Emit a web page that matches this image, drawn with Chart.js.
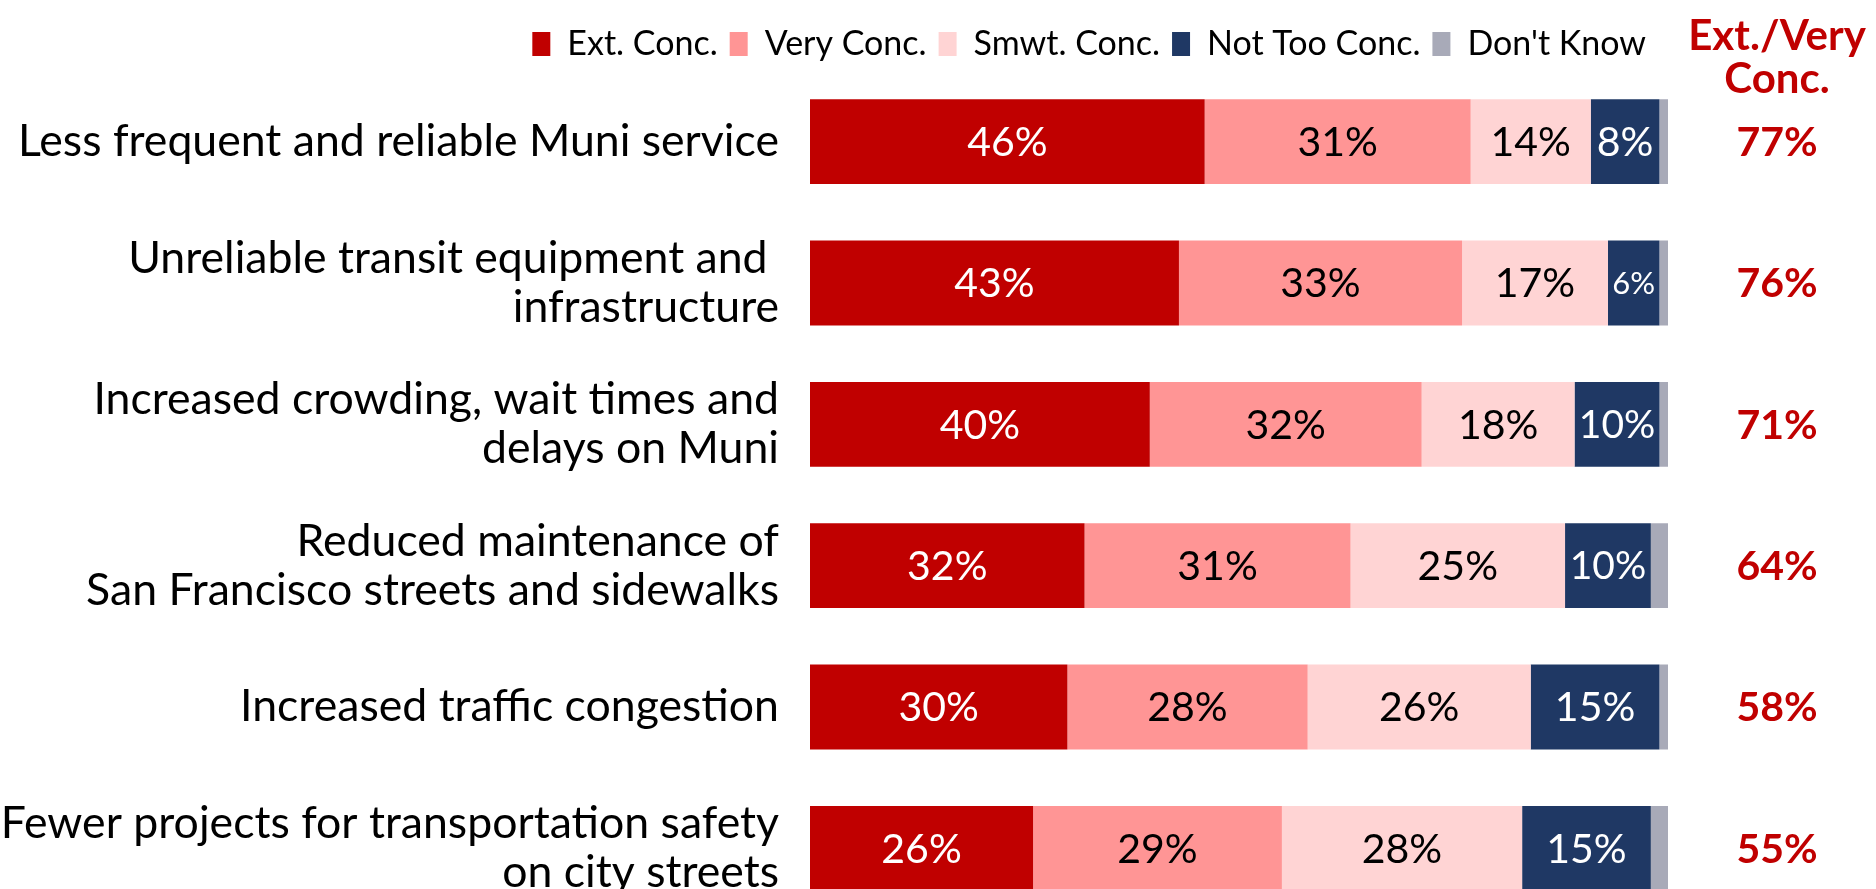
<!DOCTYPE html>
<html>
<head>
<meta charset="utf-8">
<script src="https://cdn.jsdelivr.net/npm/chart.js@4.4.0/dist/chart.umd.min.js"></script>
<style>
  html, body { margin: 0; padding: 0; background: #fff; overflow: hidden; }
  #concernChart { position: absolute; left: 0; top: 0; }
</style>
</head>
<body>
<canvas id="concernChart" width="1876" height="919"></canvas>
<script>
// categories (top to bottom)
const categories = [
    'Less frequent and reliable Muni service',
    ['Unreliable transit equipment and ', 'infrastructure'],
    ['Increased crowding, wait times and', 'delays on Muni'],
    ['Reduced maintenance of', 'San Francisco streets and sidewalks'],
    'Increased traffic congestion',
    ['Fewer projects for transportation safety', 'on city streets']
];

const seriesNames = ['Ext. Conc.', 'Very Conc.', 'Smwt. Conc.', 'Not Too Conc.', "Don't Know"];

const extConc = [46, 43, 40, 32, 30, 26];
const veryConc = [31, 33, 32, 31, 28, 29];
const smwtConc = [14, 17, 18, 25, 26, 28];
const notTooConc = [8, 6, 10, 10, 15, 15];
const dontKnow = [1, 1, 1, 2, 1, 2];

// Ext./Very Conc. column on the right
const extVeryTotal = [77, 76, 71, 64, 58, 55];

const colors = ['#C00000', '#FF9595', '#FFD4D4', '#1F3864', '#A8AAB8'];
const labelColors = ['#FFFFFF', '#000000', '#000000', '#FFFFFF', null];

const allSeries = [extConc, veryConc, smwtConc, notTooConc, dontKnow];
const rowTotals = categories.map((c, i) => allSeries.reduce((s, arr) => s + arr[i], 0));

const datasets = allSeries.map((arr, k) => ({
    label: seriesNames[k],
    data: arr.map((v, i) => v / rowTotals[i] * 100),
    raw: arr,
    backgroundColor: colors[k],
    borderWidth: 0,
    barPercentage: 0.6,
    categoryPercentage: 1.0
}));

const FONT = 'Lato';

const barLabels = {
    id: 'barLabels',
    afterDatasetsDraw(chart) {
        const ctx = chart.ctx;
        ctx.save();
        ctx.textAlign = 'center';
        ctx.textBaseline = 'middle';
        chart.data.datasets.forEach((ds, k) => {
            if (!labelColors[k]) return;
            chart.getDatasetMeta(k).data.forEach((bar, i) => {
                const txt = ds.raw[i] + '%';
                const w = Math.abs(bar.x - bar.base);
                let size = 41;
                ctx.font = size + 'px ' + FONT;
                const tw = ctx.measureText(txt).width;
                if (tw > w - 8) {
                    size = Math.floor(size * (w - 8) / tw);
                    ctx.font = size + 'px ' + FONT;
                }
                ctx.fillStyle = labelColors[k];
                ctx.fillText(txt, (bar.x + bar.base) / 2, bar.y + 1);
            });
        });
        ctx.restore();
    }
};

const netColumn = {
    id: 'netColumn',
    // nudge the legend a little left of the plot edge
    afterLayout(chart) {
        chart.legend.left -= 10;
        chart.legend.right -= 10;
    },
    afterDraw(chart) {
        const ctx = chart.ctx;
        const yScale = chart.scales.y;
        const cx = 1777;
        ctx.save();
        ctx.textAlign = 'center';
        ctx.textBaseline = 'middle';
        ctx.fillStyle = '#C00000';
        ctx.font = 'bold 42px ' + FONT;
        ctx.fillText('Ext./Very', cx, 36);
        ctx.fillText('Conc.', cx, 79);
        ctx.font = 'bold 41px ' + FONT;
        extVeryTotal.forEach((v, i) => {
            ctx.fillText(v + '%', cx, yScale.getPixelForValue(i) + 1);
        });
        ctx.restore();
    }
};

const ctx = document.getElementById('concernChart').getContext('2d');

new Chart(ctx, {
    type: 'bar',
    data: { labels: categories, datasets },
    options: {
        indexAxis: 'y',
        responsive: false,
        animation: false,
        layout: { padding: { top: 15, right: 208, bottom: 0, left: 0 } },
        plugins: {
            legend: {
                position: 'top',
                align: 'end',
                labels: {
                    color: '#000',
                    boxWidth: 18,
                    boxHeight: 24,
                    padding: 12,
                    font: { family: FONT, size: 34 }
                }
            },
            tooltip: { enabled: false }
        },
        scales: {
            x: {
                stacked: true,
                display: false,
                min: 0,
                max: 100
            },
            y: {
                stacked: true,
                grid: { display: false, drawTicks: false },
                border: { display: false },
                afterFit: scale => {
                    scale.width = 810;
                    scale.paddingTop = 0;
                    scale.paddingBottom = 0;
                },
                ticks: {
                    color: '#000',
                    padding: 31,
                    font: { family: FONT, size: 44.6, lineHeight: 1.1 }
                }
            }
        }
    },
    plugins: [barLabels, netColumn]
});
</script>
</body>
</html>
